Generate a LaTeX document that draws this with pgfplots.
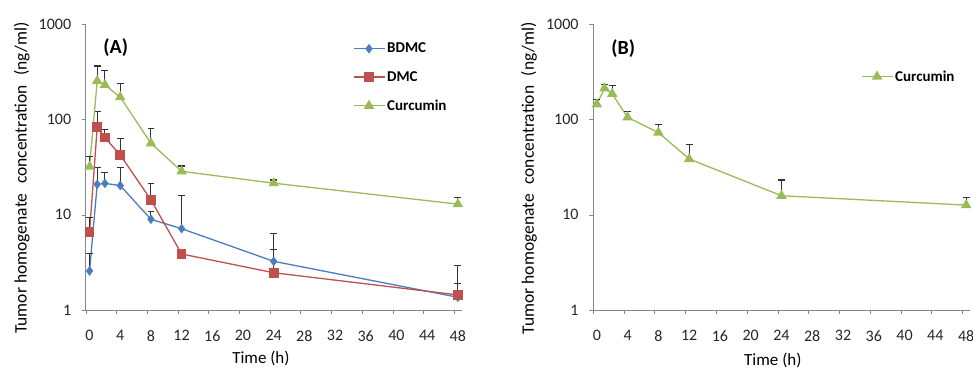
\documentclass[border=0pt]{standalone}
\usepackage{fontspec}
\setmainfont{Carlito}
\usepackage{pgfplots}
\usepackage{pgfplotstable}
\pgfplotsset{compat=1.18}

\definecolor{cB}{RGB}{74,126,187}
\definecolor{cR}{RGB}{192,80,77}
\definecolor{cG}{RGB}{155,187,89}
\definecolor{axgray}{RGB}{134,134,134}

\pgfplotstableread{
t y e
0 2.57 1.33
1 20.8 10.2
2 21.3 6.3
4 20.2 10.8
8 8.95 1.95
12 7.13 8.9
24 3.24 3.16
48 1.36 0.54
}\bdmc
\pgfplotstableread{
t y e
0 6.54 2.86
1 82.6 39.4
2 64.3 14.4
4 42.3 20
8 14.3 7.1
12 3.87 0
24 2.46 1.84
48 1.44 1.46
}\dmc
\pgfplotstableread{
t y e
0 31.9 8.7
1 253 110
2 230 92
4 171 68
8 56.1 24.6
12 28.5 3.9
24 21.4 1.7
48 12.9 2.3
}\curA
\pgfplotstableread{
t y e
0 144 16
1 212 21
2 185 41
4 105 17
8 72.6 16.3
12 38.4 15.5
24 15.8 7.3
48 12.6 2.6
}\curB

\begin{document}
\begin{tikzpicture}
\path[use as bounding box] (0,0) rectangle (973pt,373pt);
\begin{semilogyaxis}[scale only axis, width=376pt, height=286pt,
    at={(85.7pt,63pt)}, anchor=south west,
    xmin=-0.5, xmax=48.5, ymin=1, ymax=1000,
    axis x line*=bottom, axis y line*=left, axis line style={axgray},
    tick align=outside, major tick length=4pt, minor tick length=0pt,
    tick style={axgray},
    xtick={-0.5,3.5,7.5,11.5,15.5,19.5,23.5,27.5,31.5,35.5,39.5,43.5,47.5},
    xticklabels={0,4,8,12,16,20,24,28,32,36,40,44,48},
    xticklabel style={xshift=3.8pt, yshift=-13pt, font=\fontsize{16}{16}\selectfont, text=black!85},
    ytick={1,10,100,1000},
    yticklabels={1,10,100,1000},
    yticklabel style={xshift=-7pt, font=\fontsize{16}{16}\selectfont, text=black!85},
    xlabel={Time (h)},
    ylabel={Tumor homogenate\hspace{0.55em}concentration\hspace{0.55em}(ng/ml)},
    xlabel style={font=\fontsize{17}{17}\selectfont, at={(axis description cs:0.466,-0.168)}, anchor=center},
    ylabel style={font=\fontsize{17.5}{17.5}\selectfont, at={(axis description cs:-0.17,0.462)}, rotate=0, anchor=center},
    legend cell align=left,
    legend image code/.code={\draw[mark repeat=2,mark phase=2] plot coordinates {(0pt,0pt) (15.5pt,0pt) (31pt,0pt)};},
    legend style={at={(axis description cs:0.71,0.934)}, anchor=north west, draw=none, fill=none,
    font=\bfseries\fontsize{15}{15}\selectfont, row sep=17pt, inner sep=0pt,
    nodes={inner xsep=2pt, inner ysep=0pt}}]
\addplot[cB, line width=1.3pt, mark=diamond*, mark size=3.8pt, mark options={fill=cB, draw=cB},
  error bars/.cd, y dir=plus, y explicit, error bar style={black!80, line width=1.1pt},
  error mark options={black!80, line width=1.1pt, mark size=3.4pt, rotate=90}]
  table[x=t, y=y, y error=e] {\bdmc};
\addlegendentry{BDMC}
\addplot[cR, line width=1.3pt, mark=square*, mark size=4.2pt, mark options={fill=cR, draw=cR},
  error bars/.cd, y dir=plus, y explicit, error bar style={black!80, line width=1.1pt},
  error mark options={black!80, line width=1.1pt, mark size=3.4pt, rotate=90}]
  table[x=t, y=y, y error=e] {\dmc};
\addlegendentry{DMC}
\addplot[cG, line width=1.3pt, mark=triangle*, mark size=4.8pt, mark options={fill=cG, draw=cG},
  error bars/.cd, y dir=plus, y explicit, error bar style={black!80, line width=1.1pt},
  error mark options={black!80, line width=1.1pt, mark size=3.4pt, rotate=90}]
  table[x=t, y=y, y error=e] {\curA};
\addlegendentry{Curcumin}
\node[font=\bfseries\fontsize{20}{20}\selectfont] at (axis description cs:0.08,0.916) {(A)};
\end{semilogyaxis}
\begin{semilogyaxis}[scale only axis, width=377pt, height=286pt,
    at={(593pt,63pt)}, anchor=south west,
    xmin=-0.5, xmax=48.5, ymin=1, ymax=1000,
    axis x line*=bottom, axis y line*=left, axis line style={axgray},
    tick align=outside, major tick length=4pt, minor tick length=0pt,
    tick style={axgray},
    xtick={-0.5,3.5,7.5,11.5,15.5,19.5,23.5,27.5,31.5,35.5,39.5,43.5,47.5},
    xticklabels={0,4,8,12,16,20,24,28,32,36,40,44,48},
    xticklabel style={xshift=3.8pt, yshift=-13pt, font=\fontsize{16}{16}\selectfont, text=black!85},
    ytick={1,10,100,1000},
    yticklabels={1,10,100,1000},
    yticklabel style={xshift=-7pt, font=\fontsize{16}{16}\selectfont, text=black!85},
    xlabel={Time (h)},
    ylabel={Tumor homogenate\hspace{0.55em}concentration\hspace{0.55em}(ng/ml)},
    xlabel style={font=\fontsize{17}{17}\selectfont, at={(axis description cs:0.477,-0.178)}, anchor=center},
    ylabel style={font=\fontsize{17.5}{17.5}\selectfont, at={(axis description cs:-0.17,0.46)}, rotate=0, anchor=center},
    legend cell align=left,
    legend image code/.code={\draw[mark repeat=2,mark phase=2] plot coordinates {(0pt,0pt) (15.5pt,0pt) (31pt,0pt)};},
    legend style={at={(axis description cs:0.71,0.838)}, anchor=north west, draw=none, fill=none,
    font=\bfseries\fontsize{15}{15}\selectfont, inner sep=0pt,
    nodes={inner xsep=2pt, inner ysep=0pt}}]
\addplot[cG, line width=1.3pt, mark=triangle*, mark size=4.8pt, mark options={fill=cG, draw=cG},
  error bars/.cd, y dir=plus, y explicit, error bar style={black!80, line width=1.1pt},
  error mark options={black!80, line width=1.1pt, mark size=3.4pt, rotate=90}]
  table[x=t, y=y, y error=e] {\curB};
\addlegendentry{Curcumin}
\node[font=\bfseries\fontsize{20}{20}\selectfont] at (axis description cs:0.08,0.913) {(B)};
\end{semilogyaxis}
\end{tikzpicture}
\end{document}
